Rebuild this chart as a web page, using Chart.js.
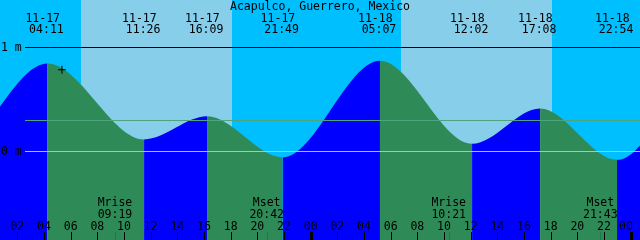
<!DOCTYPE html>
<html lang="en">
<head>
<meta charset="UTF-8">
<script src="https://cdn.jsdelivr.net/npm/chart.js@4.4.0/dist/chart.umd.min.js"></script>
<title>Acapulco, Guerrero, Mexico</title>
<style>
  body { margin: 0; background: #00bfff; }
  #wrap { width: 640px; height: 240px; }
</style>
</head>
<body>
<div id="wrap"><canvas id="tide" width="640" height="240"></canvas></div>
<script>
// hours are counted from 11-17 00:00, heights in metres
var tideHours   = [-8.9, -3.2, 4.18, 11.43, 16.15, 21.82, 29.12, 36.03, 41.13, 46.90, 54.1, 60.3];
var tideHeights = [0.32, -0.03, 0.846, 0.115, 0.337, -0.058, 0.871, 0.073, 0.413, -0.081, 0.88, 0.10];

var eventHours  = [4.18, 11.43, 16.15, 21.82, 29.12, 36.03, 41.13, 46.90];
var eventDates  = ["11-17", "11-17", "11-17", "11-17", "11-18", "11-18", "11-18", "11-18"];
var eventTimes  = ["04:11", "11:26", "16:09", "21:49", "05:07", "12:02", "17:08", "22:54"];

var sunrise = [6.70, 30.70];
var sunset  = [18.02, 42.02];

var moonHours = [9.32, 20.70, 34.35, 45.72];
var moonNames = ["Mrise", "Mset", "Mrise", "Mset"];
var moonTimes = ["09:19", "20:42", "10:21", "21:43"];

var tickHours  = [2, 4, 6, 8, 10, 12, 14, 16, 18, 20, 22, 24, 26, 28, 30, 32, 34, 36, 38, 40, 42, 44, 46, 48];
var tickLabels = ["02", "04", "06", "08", "10", "12", "14", "16", "18", "20", "22", "00",
                  "02", "04", "06", "08", "10", "12", "14", "16", "18", "20", "22", "00"];

var meanLevel = 0.30;
var nowHour = 5.27, nowHeight = 0.785;

var FONT = '11.5px "DejaVu Sans Mono", monospace';

var tidePoints = tideHours.map(function (h, i) { return {x: h, y: tideHeights[i]}; });

var decor = {
  id: 'decor',
  beforeDatasetsDraw: function (chart) {
    var c = chart.ctx, xs = chart.scales.x;
    c.save();
    c.fillStyle = '#00bfff';
    c.fillRect(0, 0, chart.width, chart.height);
    c.fillStyle = '#87ceeb';
    for (var i = 0; i < sunrise.length; i++) {
      var x0 = Math.round(xs.getPixelForValue(sunrise[i]));
      var x1 = Math.round(xs.getPixelForValue(sunset[i]));
      c.fillRect(x0, 0, x1 - x0, chart.height);
    }
    c.restore();
  },
  afterDatasetsDraw: function (chart) {
    var c = chart.ctx, xs = chart.scales.x, ys = chart.scales.y;
    c.save();
    // level lines
    var y1 = Math.floor(ys.getPixelForValue(1));
    var y0 = Math.floor(ys.getPixelForValue(0));
    var ym = Math.floor(ys.getPixelForValue(meanLevel));
    c.fillStyle = '#000000'; c.fillRect(25, y1, 615, 1);
    c.fillStyle = '#4ca57f'; c.fillRect(25, ym, 615, 1);
    c.fillStyle = '#87ceeb'; c.fillRect(25, y0, 615, 1);

    c.font = FONT;
    c.fillStyle = '#000000';
    c.textAlign = 'left';
    c.textBaseline = 'alphabetic';
    c.fillText('1 m', 1, y1 + 4);
    c.fillText('0 m', 1, y0 + 4);

    c.textAlign = 'center';
    c.fillText('Acapulco, Guerrero, Mexico', 320, 10);

    eventHours.forEach(function (h, i) {
      var px = xs.getPixelForValue(h);
      c.fillText(eventDates[i], px - 4.7, 22);
      c.fillText(eventTimes[i], px - 1, 33);
    });

    moonHours.forEach(function (h, i) {
      var px = xs.getPixelForValue(h);
      c.fillStyle = '#000000';
      c.fillText(moonNames[i], px - 1, 206);
      c.fillText(moonTimes[i], px - 1, 218);
      c.fillStyle = '#1e7a48';
      c.fillRect(Math.round(px) - 1, 232, 1, 8);
    });

    c.fillStyle = '#000000';
    tickHours.forEach(function (h, i) {
      var px = xs.getPixelForValue(h);
      c.fillText(tickLabels[i], Math.min(px - 1, 626), 229.5);
      if (tickLabels[i] === '00') {
        c.fillRect(Math.round(px) - 2, 232, 3, 8);
      } else {
        c.fillRect(Math.round(px) - 1, 232, 1, 8);
      }
    });
    c.restore();
  }
};

new Chart(document.getElementById('tide'), {
  type: 'line',
  data: {
    datasets: [
      {
        label: 'Tide',
        data: tidePoints,
        cubicInterpolationMode: 'monotone',
        borderColor: 'rgba(0,0,0,0)',
        borderWidth: 0,
        pointRadius: 0,
        fill: 'start',
        backgroundColor: '#0000ff',
        segment: {
          backgroundColor: function (ctx) {
            return ctx.p1.parsed.y > ctx.p0.parsed.y ? '#0000ff' : '#2e8b57';
          }
        },
        order: 2
      },
      {
        label: 'Now',
        data: [{x: nowHour, y: nowHeight}],
        showLine: false,
        pointStyle: 'cross',
        pointRadius: 4,
        pointBorderColor: '#000000',
        pointBorderWidth: 1,
        order: 1
      }
    ]
  },
  options: {
    responsive: false,
    animation: false,
    layout: { padding: 0, autoPadding: false },
    elements: { line: { capBezierPoints: false } },
    scales: {
      x: { type: 'linear', min: 0.6225, max: 48.6225, display: false },
      y: { type: 'linear', min: -0.8519, max: 1.4558, display: false }
    },
    plugins: {
      legend: { display: false },
      tooltip: { enabled: false }
    }
  },
  plugins: [decor]
});
</script>
</body>
</html>
